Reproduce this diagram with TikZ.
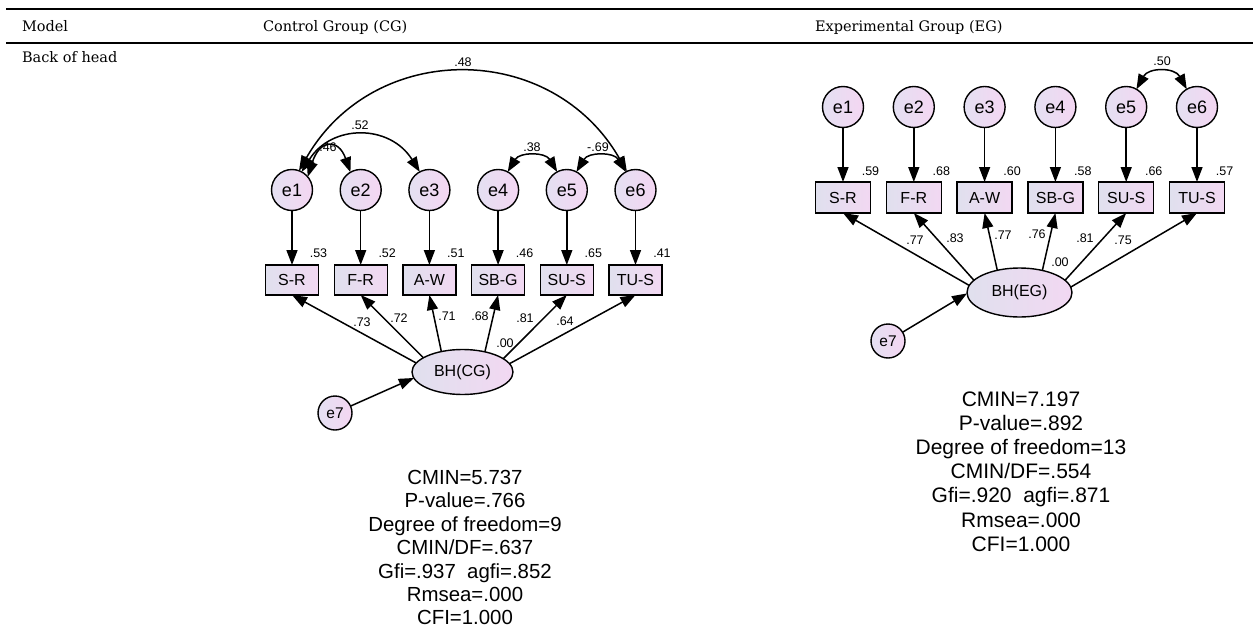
\documentclass[tikz,border=0pt]{standalone}
\usepackage{fontspec}
\setmainfont{DejaVu Serif}
\newfontfamily\arialf{Liberation Sans}
\usetikzlibrary{arrows.meta,shapes.geometric}
\definecolor{bA}{RGB}{224,224,238}
\definecolor{bB}{RGB}{242,216,242}
\definecolor{cA}{RGB}{228,224,242}
\definecolor{cB}{RGB}{244,214,242}
\begin{document}
\begin{tikzpicture}[x=1pt,y=-1pt,
  every node/.style={inner sep=0pt, outer sep=0pt},
  lat/.style={circle, draw=black, line width=1.4pt, left color=cA, right color=cB, minimum size=41pt, font=\arialf\fontsize{18}{20}\selectfont},
  lats/.style={circle, draw=black, line width=1.4pt, left color=cA, right color=cB, minimum size=34pt, font=\arialf\fontsize{15.5}{18}\selectfont},
  obs/.style={rectangle, draw=black, line width=1.4pt, left color=bA, right color=bB, minimum width=53pt, minimum height=30pt, font=\arialf\fontsize{16}{18}\selectfont},
  obsb/.style={obs, minimum width=55pt, minimum height=31pt},
  fac/.style={ellipse, draw=black, line width=1.4pt, left color=bA, right color=bB, font=\arialf\fontsize{16}{18}\selectfont},
  num/.style={font=\arialf\fontsize{12.5}{14}\selectfont},
  arr/.style={line width=1.5pt, -{Triangle[length=15pt,width=11pt]}},
  cov/.style={line width=1.5pt, {Triangle[length=15pt,width=11pt]}-{Triangle[length=15pt,width=11pt]}},
  statA/.style={font=\arialf\fontsize{20.4}{23}\selectfont, anchor=base},
  statB/.style={font=\arialf\fontsize{21}{24}\selectfont, anchor=base},
  hdr/.style={font=\fontsize{14.5}{16}\selectfont, anchor=base west},
]
\useasboundingbox (0,0) rectangle (1253,629);
% table rules and headers
\draw[line width=2pt] (6,9) -- (1253,9);
\draw[line width=1.8pt] (6,43) -- (1253,43);
\node[hdr] (hmodel) at (22,31) {Model};
\node[hdr] (hcg) at (263,31) {Control Group (CG)};
\node[hdr] (heg) at (815,31) {Experimental Group (EG)};
\node[hdr] (hbh) at (22,62) {Back of head};

% ---------- Control group ----------
\foreach \n/\lab [count=\i from 0] in {1/S-R,2/F-R,3/A-W,4/SB-G,5/SU-S,6/TU-S}{
  \node[lat] (ce\n) at (292+68.7*\i,190) {e\n};
  \node[obs] (cs\n) at (292+68.7*\i,280) {\lab};
  \draw[arr] (ce\n) -- (cs\n);
}
\foreach \n/\v in {1/.53,2/.52,3/.51,4/.46,5/.65,6/.41}
  \node[num] (cr\n) at ([yshift=12pt]cs\n.north east) {\v};
\node[fac, minimum width=101pt, minimum height=45pt] (cbh) at (462.5,372) {BH(CG)};
\node[lats] (ce7) at (335,413) {e7};
\draw[arr] (ce7) -- (cbh.187);
\draw[arr] (cbh.169) -- (cs1.south);
\draw[arr] (cbh.160) -- (cs2.south);
\draw[arr] (cbh.136) -- (cs3.south);
\draw[arr] (cbh.42) -- (cs4.south);
\draw[arr] (cbh.18) -- (cs5.south);
\draw[arr] (cbh.10) -- (cs6.south);
\node[num] (cl1) at (362,322) {.73};
\node[num] (cl2) at (399,318) {.72};
\node[num] (cl3) at (447,316) {.71};
\node[num] (cl4) at (480,316) {.68};
\node[num] (cl5) at (525,318) {.81};
\node[num] (cl6) at (565,321) {.64};
\node[num] (cl7) at (505,343) {.00};
% covariances
\draw[cov] (ce1.70) .. controls +(75,-131) and +(-75,-131) .. (ce6.115);
\draw[cov] (ce1.62) .. controls +(30,-48) and +(-30,-48) .. (ce3.118);
\draw[cov] (ce1.40) .. controls +(12,-38) and +(-12,-34) .. (ce2.120);
\draw[cov] (ce4.62) .. controls +(12,-20) and +(-12,-20) .. (ce5.118);
\draw[cov] (ce5.62) .. controls +(12,-20) and +(-12,-20) .. (ce6.118);
\node[num] (cc1) at (463,62) {.48};
\node[num] (cc2) at (360,125) {.52};
\node[num] (cc3) at (328,147) {.46};
\node[num] (cc4) at (532,147) {.38};
\node[num] (cc5) at (598,147) {-.69};
% stats
\foreach \t [count=\i from 0] in {{CMIN=5.737},{P-value=.766},{Degree of freedom=9},{CMIN/DF=.637},{Gfi=.937\ \ agfi=.852},{Rmsea=.000},{CFI=1.000}}
  \node[statA] (cst\i) at (465,484.5+23.4*\i) {\t};

% ---------- Experimental group ----------
\foreach \n/\lab [count=\i from 0] in {1/S-R,2/F-R,3/A-W,4/SB-G,5/SU-S,6/TU-S}{
  \node[lat] (ee\n) at (843+70.8*\i,107) {e\n};
  \node[obsb] (es\n) at (843+70.8*\i,197.5) {\lab};
  \draw[arr] (ee\n) -- (es\n);
}
\foreach \n/\v in {1/.59,2/.68,3/.60,4/.58,5/.66,6/.57}
  \node[num] (er\n) at ([yshift=11pt]es\n.north east) {\v};
\node[fac, minimum width=105pt, minimum height=49pt] (ebh) at (1019.5,292.5) {BH(EG)};
\node[lats] (ee7) at (888,341) {e7};
\draw[arr] (ee7) -- (ebh.181);
\draw[arr] (ebh.172) -- (es1.south);
\draw[arr] (ebh.165) -- (es2.south);
\draw[arr] (ebh.135) -- (es3.south);
\draw[arr] (ebh.44) -- (es4.south);
\draw[arr] (ebh.15) -- (es5.south);
\draw[arr] (ebh.6) -- (es6.south);
\node[num] (el1) at (915,240) {.77};
\node[num] (el2) at (955,238) {.83};
\node[num] (el3) at (1003,235) {.77};
\node[num] (el4) at (1037,234) {.76};
\node[num] (el5) at (1085,238) {.81};
\node[num] (el6) at (1123,240) {.75};
\node[num] (el7) at (1060,262) {.00};
\draw[cov] (ee5.60) .. controls +(12,-22) and +(-12,-22) .. (ee6.120);
\node[num] (ec1) at (1162,61) {.50};
\foreach \t [count=\i from 0] in {{CMIN=7.197},{P-value=.892},{Degree of freedom=13},{CMIN/DF=.554},{Gfi=.920\ \ agfi=.871},{Rmsea=.000},{CFI=1.000}}
  \node[statB] (est\i) at (1021,406.5+24.1*\i) {\t};
\end{tikzpicture}
\end{document}
